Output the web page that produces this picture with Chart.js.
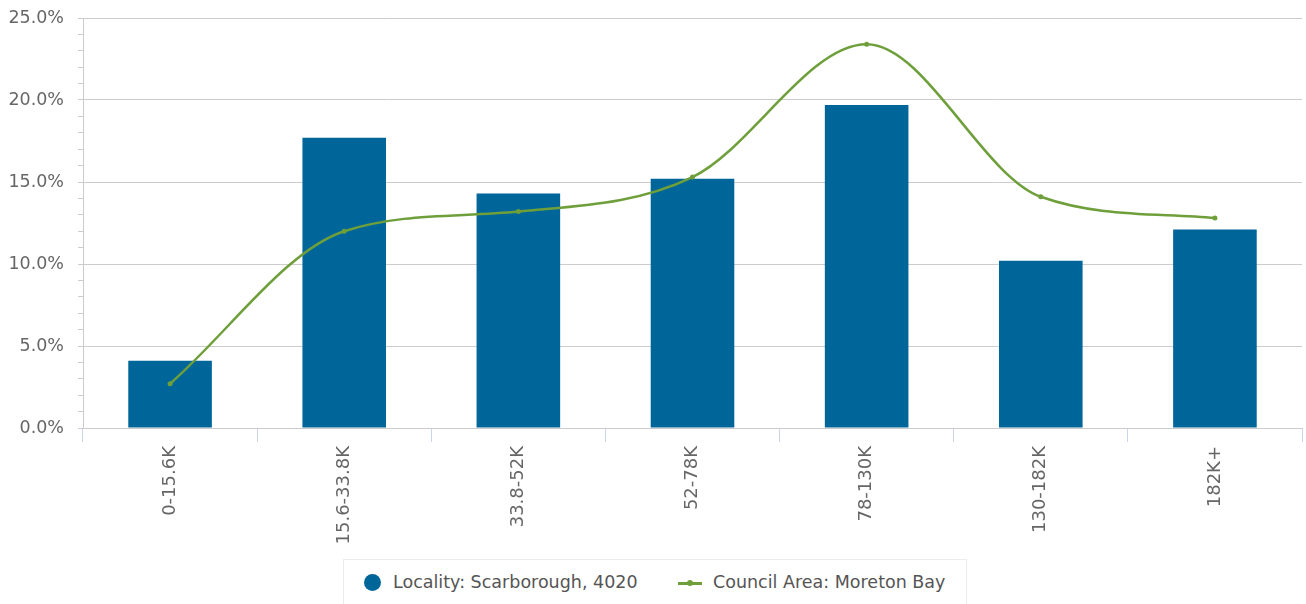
<!DOCTYPE html>
<html>
<head>
<meta charset="utf-8">
<script src="https://cdn.jsdelivr.net/npm/chart.js@4"></script>
<style>
  body { margin: 0; background: #fff; font-family: "DejaVu Sans", sans-serif; }
  #wrap { position: relative; width: 1306px; height: 604px; overflow: hidden; }
  #legend {
    position: absolute; left: 343px; top: 559px; width: 624px; height: 60px;
    border: 1px solid #ececec; box-sizing: border-box;
    font-size: 17.5px; color: #555;
  }
  .item { position: absolute; top: 12px; white-space: nowrap; }
  .dot { position: absolute; width: 17px; height: 17px; border-radius: 50%; background: #006699; }
  .line { position: absolute; width: 24px; height: 3px; background: #6f9f3b; }
  .line::after { content: ""; position: absolute; left: 9px; top: -2px; width: 6px; height: 6px; border-radius: 50%; background: #6f9f3b; }
</style>
</head>
<body>
<div id="wrap">
  <canvas id="incomeChart" width="1306" height="555"></canvas>
  <div id="legend">
    <span class="dot" style="left:20px;top:14px"></span>
    <span class="item" style="left:49px">Locality: Scarborough, 4020</span>
    <span class="line" style="left:334px;top:22px"></span>
    <span class="item" style="left:369px">Council Area: Moreton Bay</span>
  </div>
</div>
<script>
// household income bands
const categories = ['0-15.6K', '15.6-33.8K', '33.8-52K', '52-78K', '78-130K', '130-182K', '182K+'];
const localityValues = [4.1, 17.7, 14.3, 15.2, 19.7, 10.2, 12.1];
const councilValues = [2.7, 12.0, 13.2, 15.3, 23.4, 14.1, 12.8];
const yMin = 0;
const yMax = 25;
const yMajorStep = 5;

const canvasH = 555;
const plotBottom = 428;

const ctx = document.getElementById('incomeChart');
new Chart(ctx.getContext('2d'), {
    data: {
        labels: categories,
        datasets: [{
            type: 'line',
            label: 'Council Area: Moreton Bay',
            data: councilValues,
            borderColor: '#6f9f3b',
            backgroundColor: '#6f9f3b',
            borderWidth: 2.5,
            pointRadius: 2.5,
            pointBorderWidth: 0,
            cubicInterpolationMode: 'monotone',
            order: 0
        }, {
            type: 'bar',
            label: 'Locality: Scarborough, 4020',
            data: localityValues,
            backgroundColor: '#006699',
            barPercentage: 0.48,
            categoryPercentage: 1,
            order: 1
        }]
    },
    options: {
        responsive: false,
        animation: false,
        layout: { padding: { top: 18, right: 3, left: 0, bottom: 0 } },
        plugins: { legend: { display: false }, tooltip: { enabled: false } },
        scales: {
            x: {
                offset: true,
                grid: {
                    offset: true,
                    drawOnChartArea: false,
                    tickLength: 14,
                    tickColor: '#ccd6eb'
                },
                border: { color: '#cccccc' },
                ticks: {
                    minRotation: 90,
                    maxRotation: 90,
                    padding: 4,
                    color: '#666',
                    font: { family: 'DejaVu Sans', size: 18 }
                },
                afterFit: function(scale) { scale.height = canvasH - plotBottom; }
            },
            y: {
                min: yMin,
                max: yMax,
                grid: {
                    color: c => (c.tick && c.tick.value % yMajorStep === 0) ? '#cccccc' : 'rgba(0,0,0,0)',
                    tickColor: '#cccccc',
                    tickLength: 5
                },
                border: { color: '#cccccc' },
                ticks: {
                    stepSize: 1,
                    autoSkip: false,
                    padding: 14,
                    color: '#666',
                    font: { family: 'DejaVu Sans', size: 17.5 },
                    callback: v => v % yMajorStep === 0 ? v.toFixed(1) + '%' : ''
                },
                afterFit: function(scale) {
                    scale.width = 83;
                    scale.paddingTop = 0;
                    scale.paddingBottom = 0;
                }
            }
        }
    }
});
</script>
</body>
</html>
